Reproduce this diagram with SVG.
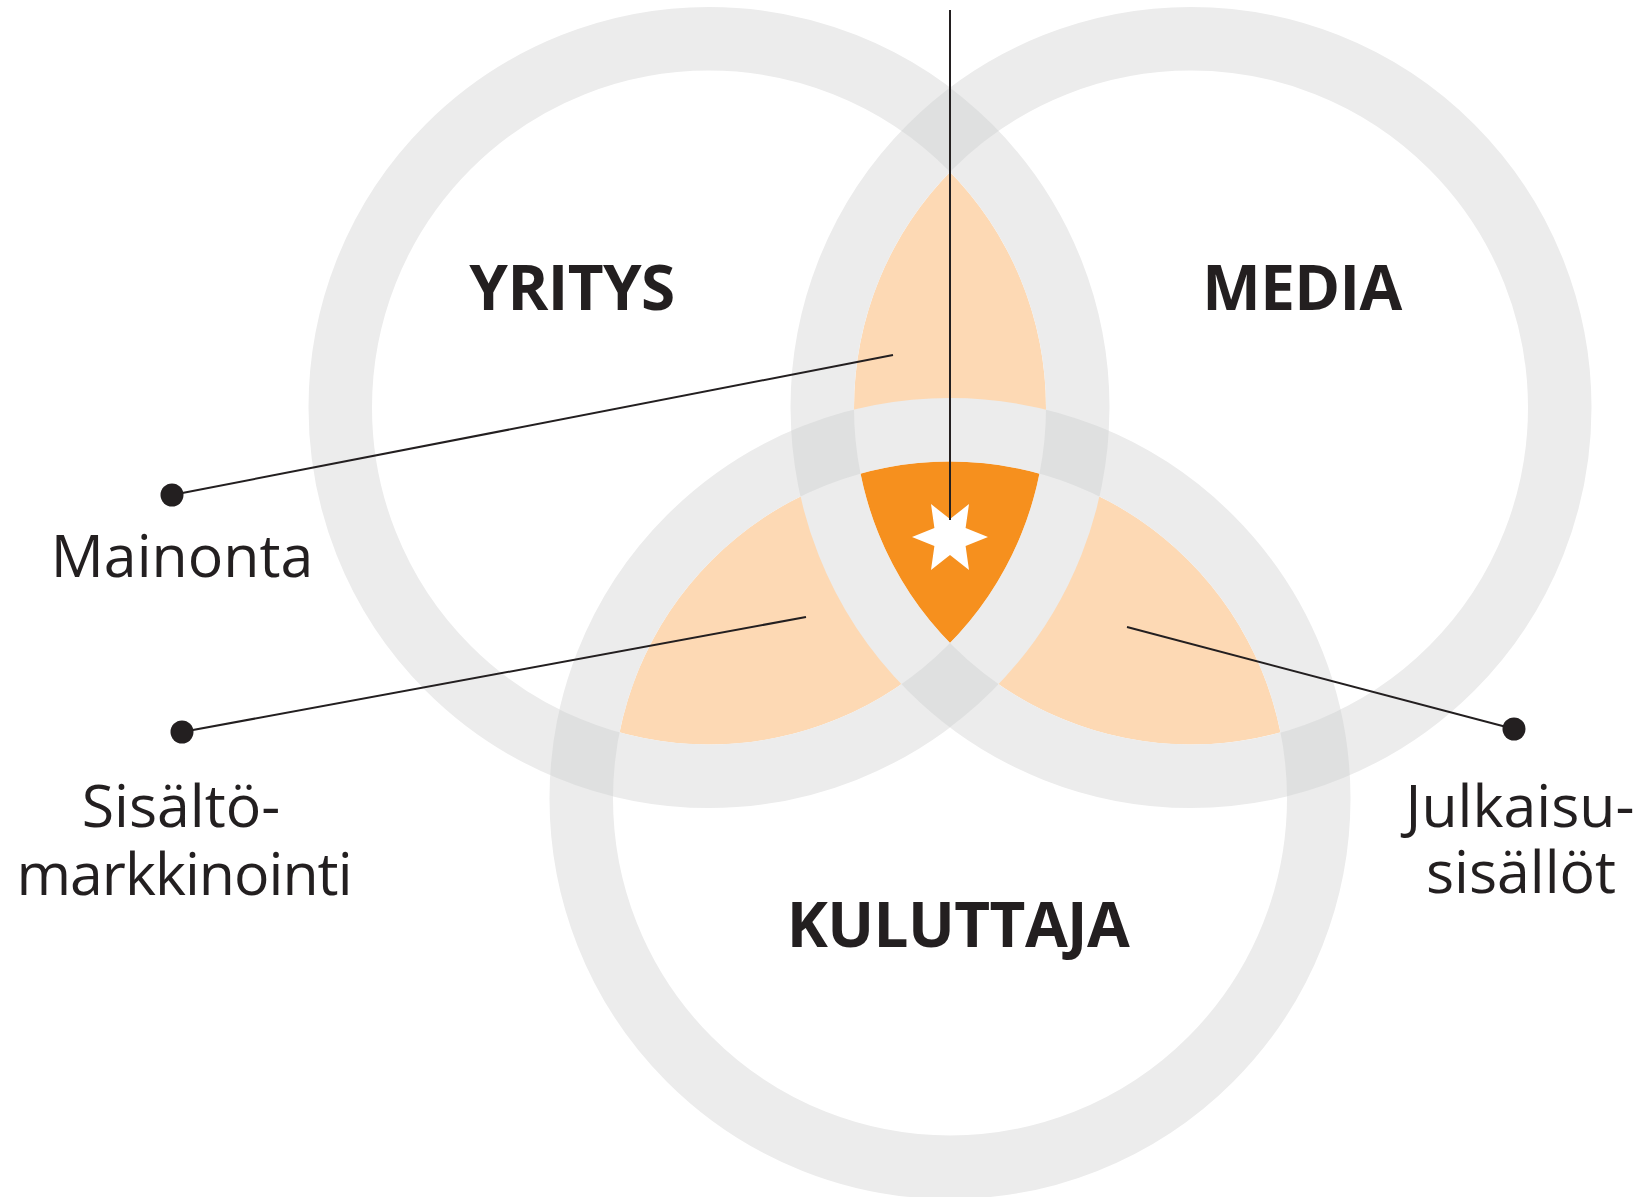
<svg xmlns="http://www.w3.org/2000/svg" width="1646" height="1197" viewBox="0 0 1646 1197">
<style>
.ring{fill:none;stroke:#ececec;stroke-width:63.5}
.ringx{fill:none;stroke:#dfe0e0;stroke-width:63.5}
.lo{fill:#fdd9b4}
.do{fill:#f6901e}
.head{font-family:"Open Sans","Noto Sans",sans-serif;font-weight:bold;font-size:62px;letter-spacing:-0.6px;fill:#231f20;text-anchor:middle}
.lab{font-family:"Open Sans","Noto Sans",sans-serif;font-size:59px;fill:#231f20;text-anchor:middle}
.ln{stroke:#231f20;stroke-width:2;fill:none}
.dot{fill:#231f20}
</style>
<defs>
<clipPath id="inA"><circle cx="709" cy="407.5" r="337"/></clipPath>
<clipPath id="inB"><circle cx="1191" cy="407.5" r="337"/></clipPath>
<clipPath id="ringA"><path clip-rule="evenodd" d="M308.5,407.5a400.5,400.5 0 1,0 801,0a400.5,400.5 0 1,0 -801,0ZM372,407.5a337,337 0 1,0 674,0a337,337 0 1,0 -674,0Z"/></clipPath>
<clipPath id="ringB"><path clip-rule="evenodd" d="M790.5,407.5a400.5,400.5 0 1,0 801,0a400.5,400.5 0 1,0 -801,0ZM854,407.5a337,337 0 1,0 674,0a337,337 0 1,0 -674,0Z"/></clipPath>
</defs>
<rect width="1646" height="1197" fill="#ffffff"/>
<g id="overlaps">
<g clip-path="url(#inA)"><circle class="lo" cx="1191" cy="407.5" r="337"/><circle class="lo" cx="950" cy="798.5" r="337"/></g>
<g clip-path="url(#inB)"><circle class="lo" cx="950" cy="798.5" r="337"/></g>
<g clip-path="url(#inA)"><g clip-path="url(#inB)"><circle class="do" cx="950" cy="798.5" r="337"/></g></g>
</g>
<g id="yritys">
<circle class="ring" cx="709" cy="407.5" r="368.75"/>
</g>
<g id="media">
<circle class="ring" cx="1191" cy="407.5" r="368.75"/>
</g>
<g id="kuluttaja">
<circle class="ring" cx="950" cy="798.5" r="368.75"/>
</g>
<g id="ring-crossings">
<g clip-path="url(#ringA)"><circle class="ringx" cx="1191" cy="407.5" r="368.75"/><circle class="ringx" cx="950" cy="798.5" r="368.75"/></g>
<g clip-path="url(#ringB)"><circle class="ringx" cx="950" cy="798.5" r="368.75"/></g>
</g>
<g id="labels-heads">
<text class="head" x="572" y="310">YRITYS</text>
<text class="head" x="1302" y="310">MEDIA</text>
<text class="head" x="958" y="947">KULUTTAJA</text>
</g>
<g id="center-star">
<polygon fill="#ffffff" points="988,537 965.6,546 969,569.9 950,555 931,569.9 934.4,546 912,537 934.4,528 931,504.1 950,519 969,504.1 965.6,528"/>
</g>
<g id="connectors">
<line class="ln" x1="950" y1="10" x2="950" y2="520"/>
<line class="ln" x1="172" y1="495" x2="893" y2="355"/>
<line class="ln" x1="182" y1="732" x2="806" y2="617"/>
<line class="ln" x1="1514" y1="729" x2="1127" y2="627"/>
</g>
<g id="mainonta">
<circle class="dot" cx="172" cy="495" r="11.5"/>
<text class="lab" x="182" y="577">Mainonta</text>
</g>
<g id="sisaltomarkkinointi">
<circle class="dot" cx="182" cy="732" r="11.5"/>
<text class="lab"><tspan x="181" y="827">Sisältö-</tspan><tspan x="184" y="895" letter-spacing="-1">markkinointi</tspan></text>
</g>
<g id="julkaisusisallot">
<circle class="dot" cx="1514" cy="729" r="11.5"/>
<text class="lab"><tspan x="1520" y="827">Julkaisu-</tspan><tspan x="1521" y="893">sisällöt</tspan></text>
</g>
</svg>
